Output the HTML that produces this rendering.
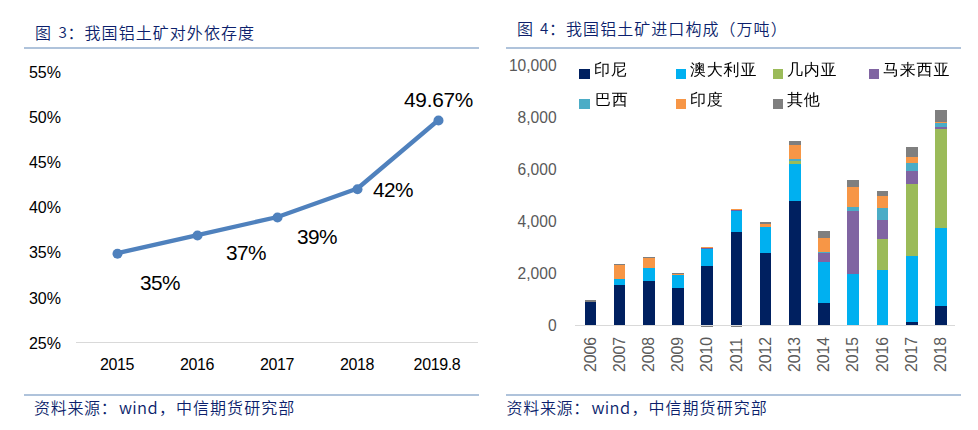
<!DOCTYPE html>
<html lang="zh-CN">
<head>
<meta charset="utf-8">
<title>我国铝土矿对外依存度 / 进口构成</title>
<style>
html,body{margin:0;padding:0;background:#fff;}
body{width:978px;height:430px;overflow:hidden;position:relative;font-family:"Liberation Sans","Noto Sans CJK SC",sans-serif;}
.a{position:absolute;white-space:nowrap;line-height:1;}
.cap{font-family:"Liberation Sans","Noto Sans CJK SC",sans-serif;font-weight:350;color:#0c1f6c;font-size:16px;letter-spacing:0.85px;}
.dv{font-family:"Noto Sans CJK SC",sans-serif;font-weight:350;letter-spacing:0;font-size:16px;}
.rule{position:absolute;height:2px;background:#afc3db;}
.yl{font-size:16px;color:#000;text-align:right;width:60px;}
.xl{font-size:16px;letter-spacing:-0.35px;color:#000;text-align:center;width:60px;}
.dl{font-size:20.8px;letter-spacing:-0.25px;color:#000;}
.ry{font-size:15.6px;color:#595959;text-align:right;width:60px;}
.leg{font-family:"Liberation Sans","WenQuanYi Zen Hei",sans-serif;font-size:16px;letter-spacing:0.8px;color:#000;}
.sw{position:absolute;width:10px;height:10px;}
.rx{font-size:15.8px;color:#595959;transform-origin:0 0;transform:rotate(-90deg);}
</style>
</head>
<body>
<!-- LEFT PANEL -->
<div class="a cap" style="left:35px;top:26px;">图</div>
<div class="a cap dv" style="left:58.5px;top:23.5px;font-size:15.2px;">3</div>
<div class="a cap" style="left:67.5px;top:26px;letter-spacing:1.05px;">：我国铝土矿对外依存度</div>
<div class="rule" style="left:24px;top:47px;width:455px;"></div>

<div class="a yl" style="left:1px;top:65px;">55%</div>
<div class="a yl" style="left:1px;top:110px;">50%</div>
<div class="a yl" style="left:1px;top:155px;">45%</div>
<div class="a yl" style="left:1px;top:200px;">40%</div>
<div class="a yl" style="left:1px;top:245px;">35%</div>
<div class="a yl" style="left:1px;top:291px;">30%</div>
<div class="a yl" style="left:1px;top:336px;">25%</div>

<div style="position:absolute;left:76px;top:342px;width:402px;height:1px;background:#d9d9d9;"></div>

<div class="a xl" style="left:87px;top:357px;">2015</div>
<div class="a xl" style="left:167px;top:357px;">2016</div>
<div class="a xl" style="left:247px;top:357px;">2017</div>
<div class="a xl" style="left:327px;top:357px;">2018</div>
<div class="a xl" style="left:407px;top:357px;">2019.8</div>

<svg style="position:absolute;left:0;top:0;" width="490" height="430" viewBox="0 0 490 430">
<polyline points="117.5,253.2 197.5,235.1 277.5,217.0 357.5,188.5 438.5,120.0" fill="none" stroke="#4f81bd" stroke-width="4.3" stroke-linejoin="round"/>
<g fill="#4f81bd">
<circle cx="117.5" cy="253.7" r="5"/>
<circle cx="197.5" cy="235.5" r="5"/>
<circle cx="277.5" cy="217.5" r="5"/>
<circle cx="357.5" cy="189.3" r="5"/>
<circle cx="438.5" cy="120.5" r="5"/>
</g>
</svg>

<div class="a dl" style="left:140px;top:273px;letter-spacing:-0.6px;">35%</div>
<div class="a dl" style="left:226px;top:243px;letter-spacing:-0.6px;">37%</div>
<div class="a dl" style="left:297px;top:227px;letter-spacing:-0.6px;">39%</div>
<div class="a dl" style="left:373px;top:180px;letter-spacing:-0.6px;">42%</div>
<div class="a dl" style="left:404px;top:90px;">49.67%</div>

<div class="rule" style="left:24px;top:394px;width:455px;"></div>
<div class="a cap" style="left:34px;top:401px;letter-spacing:0.7px;">资料来源：</div>
<div class="a cap dv" style="left:119px;top:399px;font-size:16.5px;letter-spacing:0.3px;">wind</div>
<div class="a cap" style="left:159px;top:401px;letter-spacing:1.03px;">，中信期货研究部</div>

<!-- RIGHT PANEL -->
<div class="a cap" style="left:517px;top:22px;">图</div>
<div class="a cap dv" style="left:540px;top:19.5px;font-size:15.2px;">4</div>
<div class="a cap" style="left:549px;top:22px;letter-spacing:1.05px;">：我国铝土矿进口构成（万吨）</div>
<div class="rule" style="left:506px;top:47px;width:455px;"></div>

<div class="a ry" style="left:496.6px;top:58px;">10,000</div>
<div class="a ry" style="left:496.6px;top:110px;">8,000</div>
<div class="a ry" style="left:496.6px;top:162px;">6,000</div>
<div class="a ry" style="left:496.6px;top:214px;">4,000</div>
<div class="a ry" style="left:496.6px;top:266px;">2,000</div>
<div class="a ry" style="left:496.6px;top:318px;">0</div>

<!-- legend -->
<div class="sw" style="left:579px;top:69px;width:11px;background:#002060;"></div>
<div class="a leg" style="left:594px;top:62px;">印尼</div>
<div class="sw" style="left:676px;top:69px;background:#00b0f0;"></div>
<div class="a leg" style="left:690px;top:62px;">澳大利亚</div>
<div class="sw" style="left:773px;top:69px;background:#9bbb59;"></div>
<div class="a leg" style="left:787px;top:62px;">几内亚</div>
<div class="sw" style="left:869px;top:69px;background:#8064a2;"></div>
<div class="a leg" style="left:883px;top:62px;">马来西亚</div>
<div class="sw" style="left:579px;top:99px;width:11px;background:#4bacc6;"></div>
<div class="a leg" style="left:595px;top:92px;">巴西</div>
<div class="sw" style="left:676px;top:99px;background:#f79646;"></div>
<div class="a leg" style="left:690px;top:92px;">印度</div>
<div class="sw" style="left:773px;top:99px;background:#7f7f7f;"></div>
<div class="a leg" style="left:787px;top:92px;">其他</div>

<svg style="position:absolute;left:0;top:0;" width="978" height="430" viewBox="0 0 978 430" shape-rendering="crispEdges">
<rect x="575" y="325" width="380" height="1" fill="#d9d9d9"/>
<g id="bars">
<!-- 2006 -->
<rect x="585" y="300" width="11" height="2" fill="#7f7f7f"/>
<rect x="585" y="302" width="11" height="23" fill="#002060"/>
<!-- 2007 -->
<rect x="614" y="264" width="11" height="1" fill="#7f7f7f"/>
<rect x="614" y="265" width="11" height="14" fill="#f79646"/>
<rect x="614" y="279" width="11" height="6" fill="#00b0f0"/>
<rect x="614" y="285" width="11" height="40" fill="#002060"/>
<!-- 2008 -->
<rect x="643" y="257" width="12" height="1" fill="#7f7f7f"/>
<rect x="643" y="258" width="12" height="10" fill="#f79646"/>
<rect x="643" y="268" width="12" height="13" fill="#00b0f0"/>
<rect x="643" y="281" width="12" height="44" fill="#002060"/>
<!-- 2009 -->
<rect x="672" y="273" width="12" height="1" fill="#7f7f7f"/>
<rect x="672" y="274" width="12" height="1" fill="#f79646"/>
<rect x="672" y="275" width="12" height="13" fill="#00b0f0"/>
<rect x="672" y="288" width="12" height="37" fill="#002060"/>
<!-- 2010 -->
<rect x="701" y="247" width="12" height="1" fill="#f79646"/>
<rect x="701" y="248" width="12" height="1" fill="#6c60a8"/>
<rect x="701" y="249" width="12" height="17" fill="#00b0f0"/>
<rect x="701" y="266" width="12" height="59" fill="#002060"/>
<rect x="701" y="326" width="12" height="1" fill="#7f7f7f"/>
<!-- 2011 -->
<rect x="731" y="209" width="11" height="1" fill="#f79646"/>
<rect x="731" y="210" width="11" height="1" fill="#6c60a8"/>
<rect x="731" y="211" width="11" height="21" fill="#00b0f0"/>
<rect x="731" y="232" width="11" height="93" fill="#002060"/>
<rect x="731" y="326" width="11" height="1" fill="#7f7f7f"/>
<!-- 2012 -->
<rect x="760" y="222" width="11" height="2" fill="#7f7f7f"/>
<rect x="760" y="224" width="11" height="3" fill="#f79646"/>
<rect x="760" y="227" width="11" height="26" fill="#00b0f0"/>
<rect x="760" y="253" width="11" height="72" fill="#002060"/>
<!-- 2013 -->
<rect x="789" y="141" width="12" height="4" fill="#7f7f7f"/>
<rect x="789" y="145" width="12" height="14" fill="#f79646"/>
<rect x="789" y="159" width="12" height="2" fill="#4bacc6"/>
<rect x="789" y="161" width="12" height="3" fill="#9bbb59"/>
<rect x="789" y="164" width="12" height="37" fill="#00b0f0"/>
<rect x="789" y="201" width="12" height="124" fill="#002060"/>
<!-- 2014 -->
<rect x="818" y="231" width="12" height="7" fill="#7f7f7f"/>
<rect x="818" y="238" width="12" height="14" fill="#f79646"/>
<rect x="818" y="252" width="12" height="1" fill="#4bacc6"/>
<rect x="818" y="253" width="12" height="9" fill="#8064a2"/>
<rect x="818" y="262" width="12" height="41" fill="#00b0f0"/>
<rect x="818" y="303" width="12" height="22" fill="#002060"/>
<!-- 2015 -->
<rect x="847" y="180" width="12" height="7" fill="#7f7f7f"/>
<rect x="847" y="187" width="12" height="20" fill="#f79646"/>
<rect x="847" y="207" width="12" height="4" fill="#4bacc6"/>
<rect x="847" y="211" width="12" height="63" fill="#8064a2"/>
<rect x="847" y="274" width="12" height="51" fill="#00b0f0"/>
<!-- 2016 -->
<rect x="877" y="191" width="11" height="5" fill="#7f7f7f"/>
<rect x="877" y="196" width="11" height="12" fill="#f79646"/>
<rect x="877" y="208" width="11" height="12" fill="#4bacc6"/>
<rect x="877" y="220" width="11" height="19" fill="#8064a2"/>
<rect x="877" y="239" width="11" height="31" fill="#9bbb59"/>
<rect x="877" y="270" width="11" height="55" fill="#00b0f0"/>
<!-- 2017 -->
<rect x="906" y="147" width="12" height="10" fill="#7f7f7f"/>
<rect x="906" y="157" width="12" height="6" fill="#f79646"/>
<rect x="906" y="163" width="12" height="8" fill="#4bacc6"/>
<rect x="906" y="171" width="12" height="13" fill="#8064a2"/>
<rect x="906" y="184" width="12" height="72" fill="#9bbb59"/>
<rect x="906" y="256" width="12" height="66" fill="#00b0f0"/>
<rect x="906" y="322" width="12" height="3" fill="#002060"/>
<!-- 2018 -->
<rect x="935" y="110" width="12" height="12" fill="#7f7f7f"/>
<rect x="935" y="122" width="12" height="1" fill="#f79646"/>
<rect x="935" y="123" width="12" height="4" fill="#4bacc6"/>
<rect x="935" y="127" width="12" height="2" fill="#8064a2"/>
<rect x="935" y="129" width="12" height="99" fill="#9bbb59"/>
<rect x="935" y="228" width="12" height="78" fill="#00b0f0"/>
<rect x="935" y="306" width="12" height="19" fill="#002060"/>
</g>
</svg>

<!-- rotated x labels -->
<div class="a rx" style="left:583.0px;top:371.5px;">2006</div>
<div class="a rx" style="left:612.0px;top:371.5px;">2007</div>
<div class="a rx" style="left:641.0px;top:371.5px;">2008</div>
<div class="a rx" style="left:670.0px;top:371.5px;">2009</div>
<div class="a rx" style="left:699.0px;top:371.5px;">2010</div>
<div class="a rx" style="left:729.0px;top:371.5px;">2011</div>
<div class="a rx" style="left:758.0px;top:371.5px;">2012</div>
<div class="a rx" style="left:787.0px;top:371.5px;">2013</div>
<div class="a rx" style="left:816.0px;top:371.5px;">2014</div>
<div class="a rx" style="left:845.0px;top:371.5px;">2015</div>
<div class="a rx" style="left:875.0px;top:371.5px;">2016</div>
<div class="a rx" style="left:904.0px;top:371.5px;">2017</div>
<div class="a rx" style="left:933.0px;top:371.5px;">2018</div>

<div class="rule" style="left:506px;top:394px;width:455px;"></div>
<div class="a cap" style="left:506.5px;top:401px;letter-spacing:0.7px;">资料来源：</div>
<div class="a cap dv" style="left:591.5px;top:399px;font-size:16.5px;letter-spacing:0.3px;">wind</div>
<div class="a cap" style="left:631.5px;top:401px;letter-spacing:1.03px;">，中信期货研究部</div>
</body>
</html>
